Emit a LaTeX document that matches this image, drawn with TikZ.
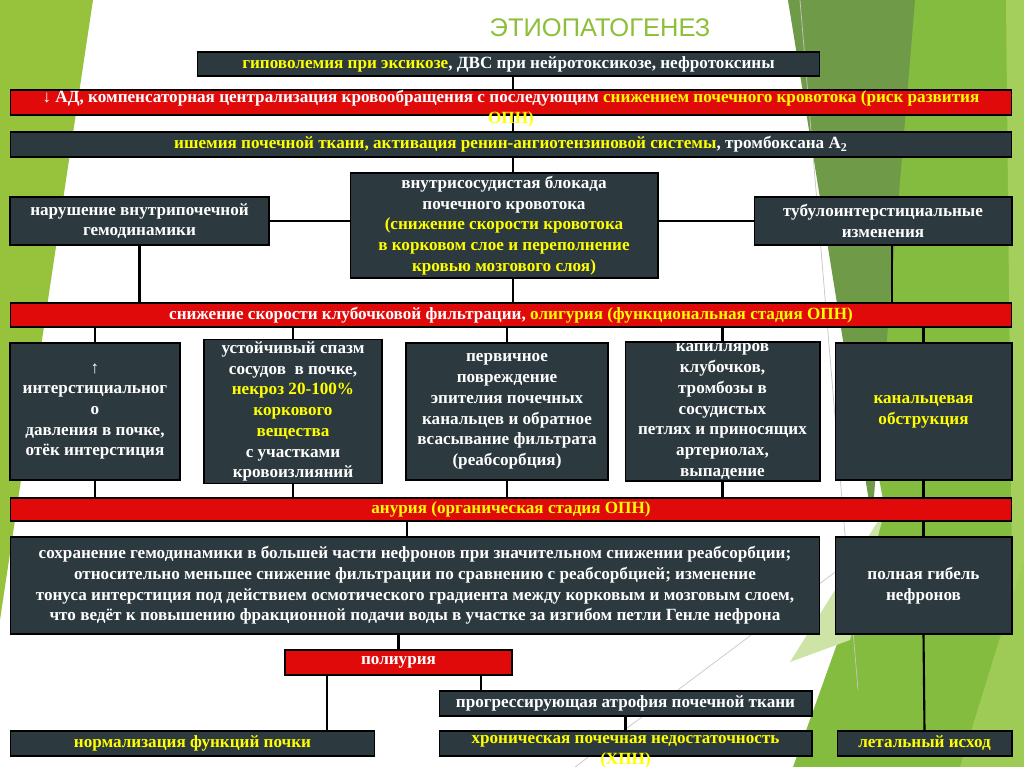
\documentclass[tikz,border=0pt]{standalone}
\usepackage{fontspec}
\setmainfont{Liberation Serif}
\newfontfamily\titlefont{Liberation Sans}
\usepackage{tikz}
\usetikzlibrary{positioning, backgrounds, calc}
\definecolor{slate}{RGB}{44,58,64}
\definecolor{barred}{RGB}{224,10,10}
\definecolor{hlyellow}{RGB}{255,255,0}
\definecolor{titlegreen}{RGB}{140,192,56}
\definecolor{leafgreen}{RGB}{151,194,60}
\definecolor{facetgreen}{RGB}{132,188,64}
\definecolor{olivegreen}{RGB}{111,155,73}
\definecolor{palegreen}{RGB}{205,228,166}
\definecolor{lightgreen}{RGB}{165,207,92}
\tikzset{
    darkbox/.style={rectangle, draw=black, line width=0.6pt, fill=slate,
                    text=white, align=center, inner sep=1pt,
                    font=\bfseries\fontsize{9.75}{11.8}\selectfont},
    redbar/.style={darkbox, fill=barred},
    widebar/.style={minimum width=20.04cm, minimum height=0.5cm},
    rowbox/.style={darkbox, minimum height=2.74cm},
    thinbar/.style={minimum height=0.5cm},
    conn/.style={draw=black, line width=1.2pt},
    titletext/.style={text=titlegreen, font=\titlefont\fontsize{14.5}{16}\selectfont},
}
\newcommand{\hl}[1]{\textcolor{hlyellow}{#1}}
\newcommand{\overrun}[2]{\raisebox{0pt}[0pt][0pt]{\parbox[t]{#1}{\centering #2}}}

\begin{document}
\begin{tikzpicture}[x=0.02cm, y=-0.02cm]
    \useasboundingbox (0,0) rectangle (1024,767);
    % slide decoration
    \begin{scope}[on background layer]
        \fill[white] (0,0) rectangle (1024,767);
        \fill[leafgreen] (0,0) -- (93,0) -- (0,620) -- cycle;
        \fill[facetgreen] (788,0) -- (1024,0) -- (1024,767) -- (793,767) -- (885,510) -- cycle;
        \fill[olivegreen] (788,0) -- (915,0) -- (872,520) -- cycle;
        \fill[lightgreen] (1006,0) -- (1024,0) -- (1024,767) -- (1014,767) -- cycle;
        \fill[lightgreen!80!facetgreen] (1024,560) -- (1024,767) -- (960,767) -- cycle;
        \fill[palegreen] (885,510) -- (790,662) -- (850,640) -- cycle;
        \draw[gray!45, line width=0.4pt] (800,0) -- (858,690);
        \draw[gray!45, line width=0.4pt] (575,767) -- (878,540);
    \end{scope}

    \node[titletext] (title) at (600,28) {ЭТИОПАТОГЕНЕЗ};

    % causes
    \node[darkbox, minimum width=12.46cm, minimum height=0.48cm] (gipo) at (508.5,64)
        {\hl{гиповолемия при эксикозе}, ДВС при нейротоксикозе, нефротоксины};
    \node[redbar, widebar] (ad) at (511,102.5)
        {\overrun{19.8cm}{↓ АД, компенсаторная централизация кровообращения с последующим
         \hl{снижением почечного кровотока (риск развития\\ОПН)}}};
    \node[darkbox, widebar] (ish) at (511,144.5)
        {\hl{ишемия почечной ткани, активация ренин-ангиотензиновой системы}, тромбоксана А\textsubscript{2}};

    % three mechanisms
    \node[darkbox, minimum width=6.16cm, minimum height=2.1cm] (blok) at (504,225.5)
        {внутрисосудистая блокада\\почечного кровотока\\
         \hl{(снижение скорости кровотока}\\\hl{в корковом слое и переполнение}\\\hl{кровью мозгового слоя)}};
    \node[darkbox, minimum width=5.18cm, minimum height=0.96cm] (narush) at (139.5,221)
        {нарушение внутрипочечной\\гемодинамики};
    \node[darkbox, minimum width=5.16cm, minimum height=0.96cm] (tubul) at (883,221)
        {тубулоинтерстициальные\\изменения};

    \node[redbar, widebar, minimum height=0.48cm] (skf) at (511,315)
        {снижение скорости клубочковой фильтрации, \hl{олигурия (функциональная стадия ОПН)}};

    % organic changes
    \node[rowbox, minimum width=3.4cm] (ra) at (95,411.5)
        {↑\\интерстициальног\\о\\давления в почке,\\отёк интерстиция};
    \node[rowbox, minimum width=3.56cm] (rb) at (293,411.5)
        {устойчивый спазм\\сосудов~ в почке,\\\hl{некроз 20-100\%}\\\hl{коркового}\\\hl{вещества}\\с участками\\кровоизлияний};
    \node[rowbox, minimum width=4.04cm] (rc) at (507,411.5)
        {первичное\\повреждение\\эпителия почечных\\канальцев и обратное\\всасывание фильтрата\\(реабсорбция)};
    \node[rowbox, minimum width=3.9cm] (rd) at (722.5,411.5)
        {капилляров\\клубочков,\\тромбозы в\\сосудистых\\петлях и приносящих\\артериолах,\\выпадение};
    \node[rowbox, minimum width=3.54cm] (re) at (923.5,411.5)
        {\hl{канальцевая}\\\hl{обструкция}};

    \node[redbar, widebar, minimum height=0.46cm] (anur) at (511,509.5)
        {\hl{анурия (органическая стадия ОПН)}};

    % outcomes
    \node[darkbox, minimum width=16.2cm, minimum height=1.94cm] (sohr) at (415,585.5)
        {сохранение гемодинамики в большей части нефронов при значительном снижении реабсорбции;\\
         относительно меньшее снижение фильтрации по сравнению с реабсорбцией; изменение\\
         тонуса интерстиция под действием осмотического градиента между корковым и мозговым слоем,\\
         что ведёт к повышению фракционной подачи воды в участке за изгибом петли Генле нефрона};
    \node[darkbox, minimum width=3.54cm, minimum height=1.94cm] (gibel) at (923.5,585.5)
        {полная гибель\\нефронов};

    \node[redbar, thinbar, minimum width=4.54cm] (poli) at (398.5,662.5) {полиурия};
    \node[darkbox, thinbar, minimum width=7.46cm] (atrof) at (625.5,703.5)
        {прогрессирующая атрофия почечной ткани};
    \node[darkbox, thinbar, minimum width=7.3cm] (norm) at (192.5,743.5)
        {\hl{нормализация функций почки}};
    \node[darkbox, thinbar, minimum width=7.46cm] (hpn) at (625.5,743.5)
        {\overrun{7.3cm}{\hl{хроническая почечная недостаточность\\(ХПН)}}};
    \node[darkbox, thinbar, minimum width=3.5cm] (letal) at (924.5,743.5)
        {\hl{летальный исход}};

    % connectors
    \begin{scope}[on background layer]
        \coordinate (spine) at (513,0);
        \draw[conn] (gipo.south -| spine) -- (blok.north -| spine);
        \draw[conn] (blok.south -| spine) -- (skf.north -| spine);
        \draw[conn] (narush.east) -- (blok.west |- narush.east);
        \draw[conn] (blok.east |- tubul.west) -- (tubul.west);
        \draw[conn] (narush.south) -- (skf.north -| narush.south);
        \draw[conn] ($(tubul.south)+(9,0)$) coordinate (t1) -- (skf.north -| t1);
        \foreach \r in {ra,rb,rc,rd,re}
            \draw[conn] (skf.south -| \r.north) -- (\r.north)
                        (\r.south) -- (anur.north -| \r.south);
        \draw[conn] ($(sohr.north)+(-8,0)$) coordinate (s1) -- (anur.south -| s1);
        \draw[conn] (anur.south -| gibel.north) -- (gibel.north);
        \draw[conn] (sohr.south -| poli.north) -- (poli.north);
        \draw[conn] ($(poli.south west)!0.185!(poli.south east)$) coordinate (p1) -- (norm.north -| p1);
        \draw[conn] ($(poli.south west)!0.86!(poli.south east)$) coordinate (p2) -- (atrof.north -| p2);
        \draw[conn] (atrof.south) -- (hpn.north);
        \draw[conn] (gibel.south) -- (letal.north);
    \end{scope}
\end{tikzpicture}
\end{document}
